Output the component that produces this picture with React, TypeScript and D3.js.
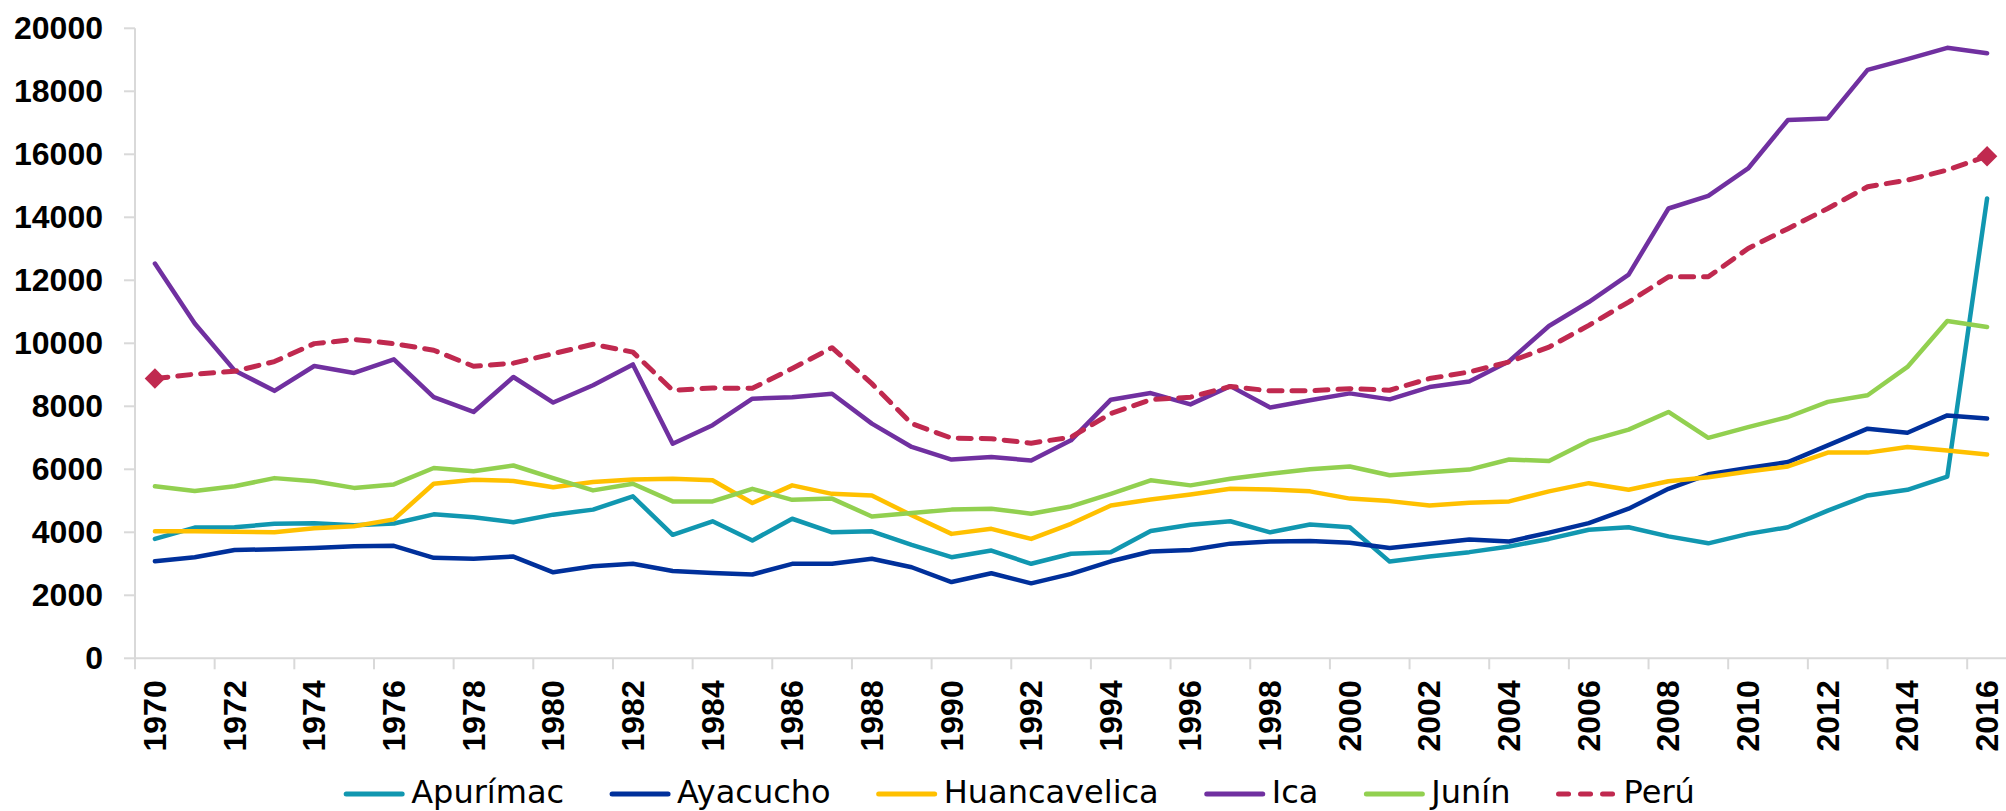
import * as d3 from "d3";

const WIDTH = 2006;
const HEIGHT = 811;
const MARGIN = { top: 28, bottom: 153, left: 135 };
const STEP = 39.83;

const years = [
  1970, 1971, 1972, 1973, 1974, 1975, 1976, 1977, 1978, 1979, 1980, 1981, 1982, 1983,
  1984, 1985, 1986, 1987, 1988, 1989, 1990, 1991, 1992, 1993, 1994, 1995, 1996, 1997,
  1998, 1999, 2000, 2001, 2002, 2003, 2004, 2005, 2006, 2007, 2008, 2009, 2010, 2011,
  2012, 2013, 2014, 2015, 2016,
];

const yTicks = [0, 2000, 4000, 6000, 8000, 10000, 12000, 14000, 16000, 18000, 20000];
const xTickLabels = years.filter((y) => y % 2 === 0);

// valores por region (lectura del grafico)
const apurimac = [
  3790, 4150, 4160, 4270, 4290, 4220, 4280, 4570, 4480, 4320, 4560, 4720, 5140, 3920,
  4350, 3740, 4430, 4000, 4030, 3600, 3210, 3420, 3000, 3320, 3370, 4040, 4240, 4350,
  4000, 4250, 4160, 3070, 3230, 3370, 3550, 3790, 4080, 4160, 3870, 3650, 3950, 4160,
  4690, 5170, 5350, 5770, 14600,
];
const ayacucho = [
  3080, 3210, 3440, 3460, 3500, 3560, 3570, 3190, 3160, 3230, 2730, 2920, 3000, 2770,
  2710, 2660, 3000, 3000, 3160, 2890, 2420, 2700, 2380, 2680, 3080, 3390, 3440, 3640,
  3710, 3720, 3670, 3500, 3640, 3770, 3710, 3990, 4290, 4750, 5380, 5840, 6040, 6230,
  6760, 7290, 7160, 7710, 7610,
];
const huancavelica = [
  4030, 4030, 4020, 4000, 4130, 4190, 4410, 5540, 5670, 5630, 5430, 5600, 5680, 5700,
  5650, 4930, 5490, 5220, 5170, 4540, 3950, 4110, 3790, 4270, 4850, 5040, 5200, 5380,
  5360, 5300, 5070, 4990, 4850, 4940, 4980, 5300, 5560, 5350, 5620, 5750, 5930, 6090,
  6530, 6530, 6710, 6600, 6470,
];
const ica = [
  12530, 10630, 9140, 8490, 9280, 9060, 9490, 8290, 7820, 8930, 8120, 8670, 9330, 6810,
  7400, 8240, 8290, 8400, 7450, 6710, 6310, 6390, 6280, 6920, 8210, 8420, 8060, 8640,
  7960, 8190, 8410, 8220, 8610, 8790, 9430, 10550, 11310, 12180, 14280, 14680, 15550, 17090,
  17140, 18680, 19020, 19380, 19210,
];
const junin = [
  5460, 5310, 5460, 5720, 5620, 5410, 5520, 6040, 5940, 6120, 5720, 5330, 5540, 4980,
  4980, 5380, 5030, 5070, 4500, 4610, 4720, 4750, 4590, 4820, 5220, 5650, 5490, 5700,
  5860, 6000, 6090, 5810, 5910, 5990, 6310, 6260, 6900, 7260, 7820, 7000, 7340, 7660,
  8140, 8350, 9250, 10710, 10520,
];
const peru = [
  8880, 9020, 9110, 9420, 9990, 10120, 9990, 9780, 9270, 9370, 9670, 9970, 9720, 8510,
  8580, 8570, 9200, 9860, 8720, 7450, 6990, 6970, 6830, 7020, 7770, 8210, 8290, 8630,
  8490, 8490, 8560, 8510, 8880, 9090, 9410, 9880, 10570, 11310, 12110, 12110, 13010, 13640,
  14280, 14970, 15180, 15500, 15940,
];

const seriesNames = ["Apurímac", "Ayacucho", "Huancavelica", "Ica", "Junín", "Perú"];
const seriesValues = [apurimac, ayacucho, huancavelica, ica, junin, peru];
const seriesColors = ["#1197b0", "#00309b", "#ffc000", "#7030a0", "#92d050", "#c0294f"];

const AXIS_FONT = "'Liberation Sans', Arial, sans-serif";
const LEGEND_FONT = "'DejaVu Sans', sans-serif";
const LEGEND_FONT_SIZE = 32;

const measure = (text: string, font: string) => {
  const ctx = document.createElement("canvas").getContext("2d");
  if (!ctx) return text.length * 18;
  ctx.font = font;
  return ctx.measureText(text).width;
};

export default function App() {
  const plotBottom = HEIGHT - MARGIN.bottom + 0.3;
  const xScale = d3
    .scaleBand<number>()
    .domain(years)
    .range([MARGIN.left, MARGIN.left + STEP * years.length]);
  const yScale = d3.scaleLinear().domain([0, 20000]).range([plotBottom, MARGIN.top + 0.3]);
  const cx = (y: number) => (xScale(y) ?? 0) + xScale.bandwidth() / 2;

  const line = d3
    .line<number>()
    .x((_, i) => cx(years[i]))
    .y((d) => yScale(d));

  const diamond = d3.symbol().type(d3.symbolSquare).size(210)();

  // legend layout
  const lineLen = 62;
  const textGap = 6;
  const itemGap = 45;
  const items = seriesNames.map((name) => ({
    name,
    w: measure(name, `${LEGEND_FONT_SIZE}px ${LEGEND_FONT}`),
  }));
  const totalW =
    items.reduce((s, it) => s + lineLen + textGap + it.w, 0) + itemGap * (items.length - 1);
  let lx = 1019 - totalW / 2;
  const legendItems = items.map((it, i) => {
    const x = lx;
    lx += lineLen + textGap + it.w + itemGap;
    return { ...it, x, i };
  });
  const legendY = 794;

  return (
    <div style={{ position: "absolute", left: 0, top: 0 }}>
      <svg width={WIDTH} height={HEIGHT} style={{ display: "block", background: "#fff" }}>
        {/* y axis */}
        <line x1={MARGIN.left} x2={MARGIN.left} y1={yScale(20000)} y2={plotBottom} stroke="#d9d9d9" strokeWidth={2} />
        {yTicks.map((t) => (
          <g key={t}>
            <line x1={MARGIN.left - 11} x2={MARGIN.left} y1={yScale(t)} y2={yScale(t)} stroke="#d9d9d9" strokeWidth={2} />
            <text
              x={103}
              y={yScale(t)}
              textAnchor="end"
              dominantBaseline="central"
              fontFamily={AXIS_FONT}
              fontWeight="bold"
              fontSize={32}
              fill="#000"
            >
              {t}
            </text>
          </g>
        ))}

        {/* x axis */}
        <line x1={MARGIN.left} x2={WIDTH} y1={plotBottom} y2={plotBottom} stroke="#d9d9d9" strokeWidth={2} />
        {xTickLabels.map((yr) => (
          <g key={yr}>
            <line
              x1={xScale(yr)}
              x2={xScale(yr)}
              y1={plotBottom}
              y2={plotBottom + 11}
              stroke="#d9d9d9"
              strokeWidth={2}
            />
            <text
              transform={`translate(${cx(yr)},${plotBottom + 22}) rotate(-90)`}
              textAnchor="end"
              dominantBaseline="central"
              fontFamily={AXIS_FONT}
              fontWeight="bold"
              fontSize={32}
              fill="#000"
            >
              {yr}
            </text>
          </g>
        ))}

        {/* series */}
        {seriesValues.map((vals, i) => (
          <path
            key={seriesNames[i]}
            d={line(vals) ?? ""}
            fill="none"
            stroke={seriesColors[i]}
            strokeWidth={i === 5 ? 5 : 4.5}
            strokeDasharray={i === 5 ? "13 10" : undefined}
            strokeLinecap="round"
            strokeLinejoin="round"
          />
        ))}
        {[0, peru.length - 1].map((idx) => (
          <path
            key={idx}
            d={diamond ?? ""}
            transform={`translate(${cx(years[idx])},${yScale(peru[idx])}) rotate(45)`}
            fill={seriesColors[5]}
          />
        ))}

        {/* legend */}
        {legendItems.map((it) => (
          <g key={it.name}>
            <line
              x1={it.x + 3}
              x2={it.x + lineLen - 3}
              y1={legendY}
              y2={legendY}
              stroke={seriesColors[it.i]}
              strokeWidth={5}
              strokeDasharray={it.i === 5 ? "10 12" : undefined}
              strokeLinecap="round"
            />
            <text
              x={it.x + lineLen + textGap}
              y={803}
              fontFamily={LEGEND_FONT}
              fontSize={LEGEND_FONT_SIZE}
              fill="#000"
            >
              {it.name}
            </text>
          </g>
        ))}
      </svg>
    </div>
  );
}
